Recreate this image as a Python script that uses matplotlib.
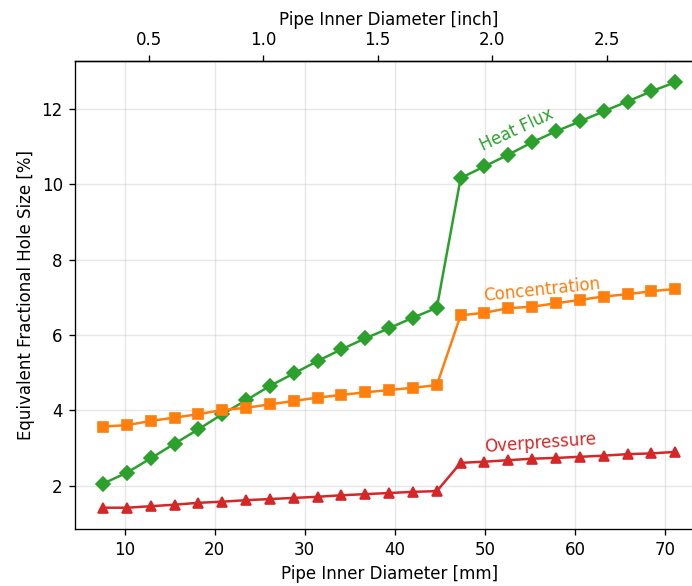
import matplotlib
matplotlib.use("Agg")
import matplotlib.pyplot as plt

# pipe inner diameter [mm]
diameter_mm = [7.62, 10.27, 12.91, 15.56, 18.20, 20.85, 23.50, 26.14, 28.79,
               31.43, 34.08, 36.73, 39.37, 42.02, 44.66, 47.31, 49.95, 52.60,
               55.25, 57.89, 60.54, 63.18, 65.83, 68.48, 71.12]

# equivalent fractional hole size [%]
heat_flux = [2.06, 2.35, 2.73, 3.12, 3.50, 3.90, 4.27, 4.65, 4.98, 5.31,
             5.62, 5.91, 6.18, 6.46, 6.72, 10.16, 10.47, 10.78, 11.11, 11.40,
             11.66, 11.93, 12.19, 12.46, 12.70]
concentration = [3.57, 3.61, 3.72, 3.81, 3.90, 4.01, 4.07, 4.16, 4.25, 4.34,
                 4.41, 4.48, 4.54, 4.60, 4.67, 6.52, 6.59, 6.71, 6.75, 6.84,
                 6.93, 7.02, 7.08, 7.16, 7.22]
overpressure = [1.42, 1.42, 1.46, 1.50, 1.55, 1.58, 1.62, 1.65, 1.68, 1.71,
                1.75, 1.78, 1.81, 1.84, 1.86, 2.61, 2.64, 2.68, 2.72, 2.74,
                2.77, 2.80, 2.84, 2.86, 2.90]

MM_PER_INCH = 25.4


def mm2inch(x):
    return x / MM_PER_INCH


def inch2mm(x):
    return x * MM_PER_INCH


DPI = 120
fig = plt.figure(figsize=(692 / DPI, 586 / DPI), dpi=DPI)
ax = fig.add_axes([0.1077, 0.0973, 0.9093, 0.7986])

ax.plot(diameter_mm, heat_flux, color="tab:green", marker="D")
ax.plot(diameter_mm, concentration, color="tab:orange", marker="s")
ax.plot(diameter_mm, overpressure, color="tab:red", marker="^")

# inline labels instead of a legend
ax.text(50, 10.78, "Heat Flux", color="tab:green",
        rotation=25, rotation_mode="anchor", ha="left", va="bottom")
ax.text(50, 6.80, "Concentration", color="tab:orange",
        rotation=6, rotation_mode="anchor", ha="left", va="bottom")
ax.text(50, 2.80, "Overpressure", color="tab:red",
        rotation=4, rotation_mode="anchor", ha="left", va="bottom")

ax.grid(True, alpha=0.3)
ax.set_xlabel("Pipe Inner Diameter [mm]")
ax.set_ylabel("Equivalent Fractional Hole Size [%]")

top = ax.secondary_xaxis("top", functions=(mm2inch, inch2mm))
top.set_xlabel("Pipe Inner Diameter [inch]")

fig.savefig("out.png", dpi=DPI)
